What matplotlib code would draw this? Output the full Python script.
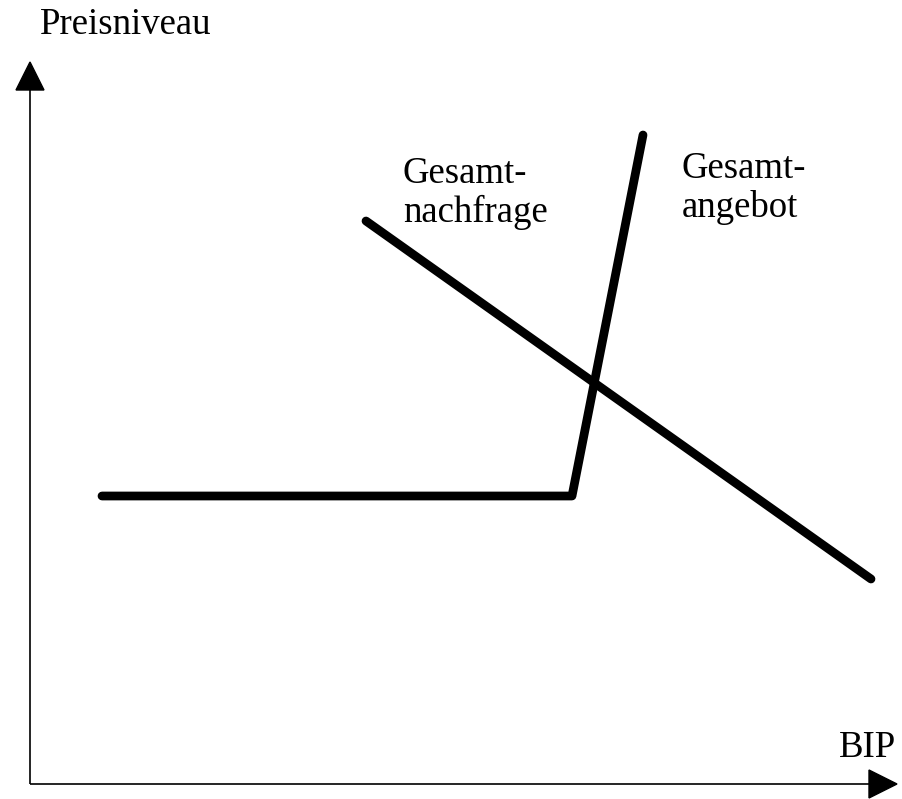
import matplotlib.pyplot as plt
from matplotlib.patches import Polygon

# curve points (pixel offsets from the axis origin, y up)
supply_x = [72, 542, 613]
supply_y = [288, 288, 649]
demand_x = [336, 841]
demand_y = [563, 205]

label_y = "Preisniveau"
label_x = "BIP"
label_demand = ["Gesamt-", "nachfrage"]
label_supply = ["Gesamt-", "angebot"]

plt.rcParams["font.family"] = ["Liberation Serif", "DejaVu Serif"]

fig = plt.figure(figsize=(9.03, 7.99), dpi=100)
ax = fig.add_axes([0, 0, 1, 1])
ax.set_xlim(-30, 873)
ax.set_ylim(-15, 784)
ax.axis("off")

# axes with arrow heads
ax.plot([0, 0], [0, 700], color="black", lw=1.2, solid_capstyle="butt")
ax.plot([0, 845], [0, 0], color="black", lw=1.2, solid_capstyle="butt")
ax.add_patch(Polygon([(0, 722), (-14, 694), (14, 694)], closed=True, color="black"))
ax.add_patch(Polygon([(867, 0), (839, -14), (839, 14)], closed=True, color="black"))

ax.plot(supply_x, supply_y, color="black", lw=6.3, solid_capstyle="round",
        solid_joinstyle="round")
ax.plot(demand_x, demand_y, color="black", lw=6.3, solid_capstyle="round")

fs = 26.5
ax.text(10, 750, label_y, fontsize=fs, ha="left", va="baseline")
ax.text(809, 27, label_x, fontsize=fs, ha="left", va="baseline")
for i, line in enumerate(label_demand):
    ax.text(373, 601 - 39 * i, line, fontsize=fs, ha="left", va="baseline")
for i, line in enumerate(label_supply):
    ax.text(652, 606 - 39 * i, line, fontsize=fs, ha="left", va="baseline")

fig.savefig("out.png", dpi=100)
